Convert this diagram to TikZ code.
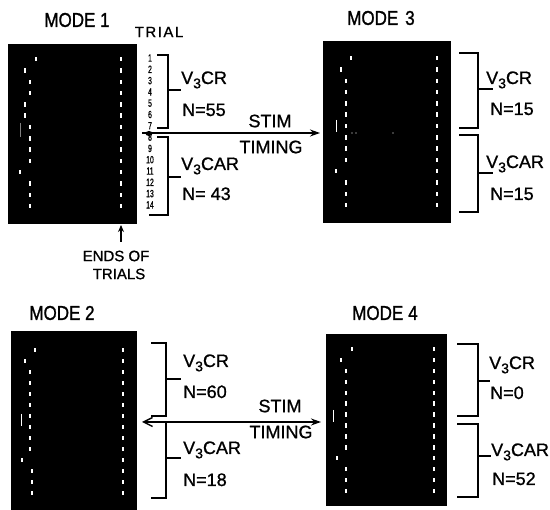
\documentclass[tikz,border=0pt]{standalone}
\usepackage{fontspec}
\setmainfont[FakeBold=1]{Liberation Sans}
\newfontfamily\modefont[FakeStretch=0.85,FakeBold=1.2]{Liberation Sans}
\newfontfamily\narrowfont[FakeStretch=0.65,FakeBold=0.8]{Liberation Sans}
\newfontfamily\spacedfont[LetterSpace=10,FakeBold=1]{Liberation Sans}
\usetikzlibrary{arrows.meta}
\newcommand\Vth{V\raisebox{-0.45ex}{\fontsize{14}{14}\selectfont 3}}
\begin{document}
\begin{tikzpicture}[x=1pt,y=-1pt,
  screen/.style={fill=black,draw=none,inner sep=0,outer sep=0},
  lbl/.style={font=\fontsize{18}{18}\selectfont,anchor=base west,inner sep=0},
  modetitle/.style={font=\modefont\fontsize{20}{20}\selectfont,inner sep=0},
  smalltxt/.style={font=\fontsize{15}{15}\selectfont,inner sep=0},
  trialnum/.style={font=\narrowfont\fontsize{10.5}{10.5}\selectfont,inner sep=0},
  brk/.style={line width=1.4pt,line cap=rect},
  conn/.style={line width=1.4pt}
]
\useasboundingbox (0,0) rectangle (550,510);

% ---------- screens ----------
\node[screen,minimum width=129pt,minimum height=180pt] (m1) at (72.5,134) {};
\node[screen,minimum width=128pt,minimum height=182pt] (m3) at (387,132) {};
\node[screen,minimum width=126pt,minimum height=182pt] (m2) at (74,422) {};
\node[screen,minimum width=121pt,minimum height=172pt] (m4) at (386.5,420) {};

% ---------- dots: mode 1 ----------
\foreach \xx [count=\i from 0] in {36,25,30,30,25,25,30,30,30,30,20,30,30,30}
  \fill[white] (\xx-1,57+11.3*\i) rectangle ++(2.2,4.5);
\foreach \i in {0,...,13}
  \fill[white] (120,57+11.3*\i) rectangle ++(2.2,4.5);
\draw[gray,line width=0.8pt] (20,123) -- (20,137);

% ---------- dots: mode 3 ----------
\foreach \xx [count=\i from 0] in {351,341,346,346,346,346,346,346,346,346,336,346,346,346}
  \fill[white] (\xx-1,56+11.3*\i) rectangle ++(2.2,4.5);
\foreach \i in {0,...,13}
  \fill[white] (436,56+11.3*\i) rectangle ++(2.2,4.5);
\draw[white,line width=0.8pt] (336,120) -- (336,132);
\fill[white] (352,133) circle (0.7) (356,133) circle (0.7) (393,133) circle (0.6);

% ---------- dots: mode 2 ----------
\foreach \xx [count=\i from 0] in {35,25,30,30,30,30,30,30,30,30,22,32,32,32}
  \fill[white] (\xx-1,348+11*\i) rectangle ++(2.2,4.5);
\foreach \i in {0,...,13}
  \fill[white] (122,348+11*\i) rectangle ++(2.2,4.5);
\draw[white,line width=0.8pt] (21,414) -- (21,426);

% ---------- dots: mode 4 ----------
\foreach \xx [count=\i from 0] in {352,341,346,346,346,346,346,346,346,346,337,346,346,346}
  \fill[white] (\xx-1,347+10.9*\i) rectangle ++(2.2,4.5);
\foreach \i in {0,...,13}
  \fill[white] (433,347+10.9*\i) rectangle ++(2.2,4.5);
\draw[white,line width=0.8pt] (333,410) -- (333,422);

% ---------- titles ----------
\node[modetitle] (t1) at (77,20) {MODE 1};
\node[modetitle] (t3) at (381,18) {MODE\hspace{7pt}3};
\node[modetitle] (t2) at (62,313) {MODE 2};
\node[modetitle] (t4) at (385,313) {MODE\hspace{5pt}4};
\node[smalltxt,font=\spacedfont\fontsize{15}{15}\selectfont] (trial) at (159,32) {TRIAL};

% ---------- trial numbers ----------
\foreach \n [count=\i from 0] in {1,...,14}
  \node[trialnum] (tn\n) at (150,58+11.3*\i) {\n};

% ---------- mode 1 brackets ----------
\draw[brk] (158,55) -- (168,55) -- (168,128) -- (158,128);
\draw[brk] (168,90) -- (180,90);
\draw[brk] (158,137) -- (168,137) -- (168,215) -- (150,215);
\draw[brk] (168,177) -- (180,177);
\node[lbl] (cr1) at (181,84) {\Vth CR};
\node[lbl] (n1a) at (182,116) {N=55};
\node[lbl] (car1) at (181,170) {\Vth CAR};
\node[lbl] (n1b) at (182,200) {N= 43};

% ---------- mode 3 brackets ----------
\draw[brk] (460,53) -- (478,53) -- (478,128) -- (460,128);
\draw[brk] (478,89) -- (492,89);
\draw[brk] (460,135) -- (478,135) -- (478,212) -- (460,212);
\draw[brk] (478,173) -- (492,173);
\node[lbl] (cr3) at (486,84) {\Vth CR};
\node[lbl] (n3a) at (490,115) {N=15};
\node[lbl] (car3) at (486,168) {\Vth CAR};
\node[lbl] (n3b) at (490,200) {N=15};

% ---------- mode 2 brackets ----------
\draw[brk] (152,343) -- (166,343) -- (166,416) -- (152,416);
\draw[brk] (166,379) -- (180,379);
\draw[brk] (166,423) -- (166,498) -- (152,498);
\draw[brk] (166,458) -- (180,458);
\node[lbl] (cr2) at (183,367) {\Vth CR};
\node[lbl] (n2a) at (183,398) {N=60};
\node[lbl] (car2) at (183,454) {\Vth CAR};
\node[lbl] (n2b) at (183,486) {N=18};

% ---------- mode 4 brackets ----------
\draw[brk] (458,344) -- (478,344) -- (478,416) -- (458,416);
\draw[brk] (478,381) -- (489,381);
\draw[brk] (458,424) -- (478,424) -- (478,497) -- (458,497);
\draw[brk] (478,456) -- (490,456);
\node[lbl] (cr4) at (489,369) {\Vth CR};
\node[lbl] (n4a) at (490,399) {N=0};
\node[lbl] (car4) at (491,456) {\Vth CAR};
\node[lbl] (n4b) at (492,485) {N=52};

% ---------- stim timing arrows ----------
\coordinate (a1s) at (142,133);
\coordinate (a1e) at (320,133);
\fill (a1s) ++(7,0.5) ellipse (3.5 and 2.5);
\draw[conn,-{Stealth[length=10pt,width=7pt]}] (a1s) -- (a1e);
\node[lbl,anchor=center] (stim1) at (270,121) {STIM};
\node[lbl,anchor=center] (tim1) at (271,147) {TIMING};

\coordinate (a2s) at (142,422);
\coordinate (a2e) at (321,422);
\draw[conn,{Straight Barb[length=9pt,width=9pt]}-{Stealth[length=10pt,width=7pt]}] (a2s) -- (a2e);
\node[lbl,anchor=center] (stim2) at (280,406) {STIM};
\node[lbl,anchor=center] (tim2) at (281,432) {TIMING};

% ---------- ends of trials ----------
\node[smalltxt] (ends) at (116,256) {ENDS OF};
\node[smalltxt] (trials) at (119,274) {TRIALS};
\coordinate (endtip) at (121,225);
\draw[conn,-{Stealth[length=7pt,width=6pt]}] (121,242) -- (endtip);
\end{tikzpicture}
\end{document}
